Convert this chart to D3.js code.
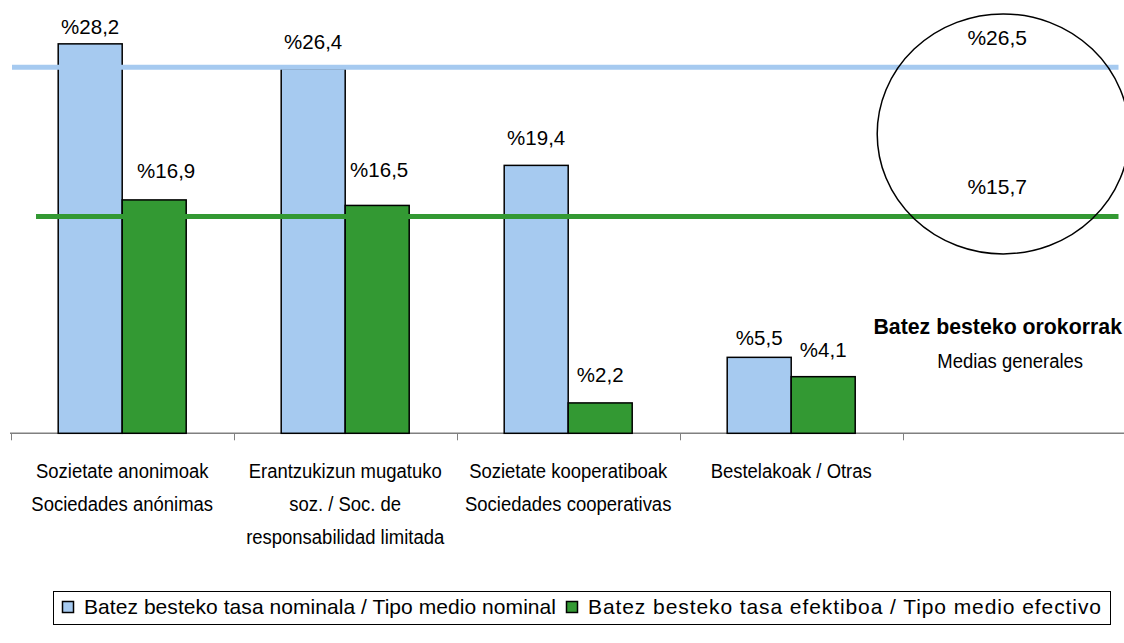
<!DOCTYPE html>
<html><head><meta charset="utf-8">
<script src="https://cdn.jsdelivr.net/npm/d3@7"></script>
<style>
html,body{margin:0;padding:0;background:#fff;}
svg{display:block;}
.narrow{font-family:"Liberation Sans Narrow","Arial Narrow","Liberation Sans",Arial,sans-serif;}
.reg{font-family:"Liberation Sans",Arial,sans-serif;}
</style></head>
<body>
<svg id="chart" width="1124" height="643"></svg>
<script>
// ---- data ----
const categories = ["Sozietate anonimoak", "Erantzukizun mugatuko", "Sozietate kooperatiboak", "Bestelakoak"];
const categoryLines = [
  ["Sozietate anonimoak", "Sociedades anónimas"],
  ["Erantzukizun mugatuko", "soz. / Soc. de", "responsabilidad limitada"],
  ["Sozietate kooperatiboak", "Sociedades cooperativas"],
  ["Bestelakoak / Otras"]
];
const nominal = [28.2, 26.4, 19.4, 5.5];
const efectivo = [16.9, 16.5, 2.2, 4.1];
const averages = [26.5, 15.7];
const seriesNames = ["Batez besteko tasa nominala / Tipo medio nominal", "Batez besteko tasa efektiboa / Tipo medio efectivo"];
const averageTitle = ["Batez besteko orokorrak", "Medias generales"];

// ---- layout / style ----
const W = 1124, H = 643;
const colors = ["#A6CAF0", "#339933"];
const squeeze = 0.88; // horizontal compression to imitate a narrow face
const svg = d3.select("#chart");
const slots = categories.concat(["avg"]);
const x = d3.scaleBand().domain(slots).range([10.7, 1125.7]).padding(0);
const bw = x.bandwidth();
const x1 = d3.scaleBand().domain([0, 1]).range([bw / 2 - 64, bw / 2 + 64]).padding(0);
const y = d3.scaleLinear().domain([0, 30]).range([433.3, 19]);
const locale = d3.formatLocale({decimal: ",", thousands: ".", grouping: [3], currency: ["", "%"]});
const fmt = v => "%" + locale.format(".1f")(v);

// label nudges (dx, dy above bar top)
const labelNudge = [
  [[0, 10], [12, 22]],
  [[0, 20], [2, 28]],
  [[0, 20], [0, 21]],
  [[0, 12], [0, 20]]
];

// axis
const axisG = svg.append("g");
axisG.append("line").attr("x1", 10).attr("x2", W).attr("y1", y(0)).attr("y2", y(0))
  .attr("stroke", "#808080").attr("stroke-width", 1.5);
axisG.selectAll("line.tick").data(slots).join("line").attr("class", "tick")
  .attr("x1", d => Math.round(x(d)) + 0.5).attr("x2", d => Math.round(x(d)) + 0.5)
  .attr("y1", y(0)).attr("y2", y(0) + 7).attr("stroke", "#808080").attr("stroke-width", 1);

// bars
const series = [nominal, efectivo];
const groups = svg.append("g").selectAll("g").data(categories).join("g")
  .attr("transform", d => `translate(${x(d)},0)`);
groups.each(function(c, i) {
  const g = d3.select(this);
  series.forEach((s, k) => {
    g.append("rect")
      .attr("x", x1(k)).attr("width", x1.bandwidth())
      .attr("y", y(s[i])).attr("height", y(0) - y(s[i]))
      .attr("fill", colors[k]).attr("stroke", "#000").attr("stroke-width", 1.5);
  });
});

// average lines
const lineStarts = [12, 36];
averages.forEach((v, k) => {
  svg.append("line").attr("x1", lineStarts[k]).attr("x2", 1118.5)
    .attr("y1", y(v)).attr("y2", y(v))
    .attr("stroke", colors[k]).attr("stroke-width", 5);
});

// value labels
groups.each(function(c, i) {
  const g = d3.select(this);
  series.forEach((s, k) => {
    const n = labelNudge[i][k];
    g.append("text").attr("class", "reg")
      .attr("x", x1(k) + x1.bandwidth() / 2 + n[0])
      .attr("y", y(s[i]) - n[1])
      .attr("text-anchor", "middle").attr("font-size", 20.5).attr("fill", "#000")
      .text(fmt(s[i]));
  });
});

// category labels
svg.append("g").selectAll("text").data(categories).join("text")
  .attr("class", "narrow").attr("font-size", 21).attr("fill", "#000")
  .attr("text-anchor", "middle")
  .attr("transform", d => `translate(${x(d) + bw / 2},0) scale(${squeeze},1)`)
  .each(function(d, i) {
    d3.select(this).selectAll("tspan").data(categoryLines[i]).join("tspan")
      .attr("x", 0).attr("y", (l, j) => 478 + j * 33).text(l => l);
  });

// averages annotation
const cx = x("avg") + bw / 2 - 11;
svg.append("ellipse").attr("cx", cx).attr("cy", (y(averages[0]) + y(averages[1])) / 2 - 8)
  .attr("rx", 126).attr("ry", 120).attr("fill", "none").attr("stroke", "#000").attr("stroke-width", 1.5);
averages.forEach((v, k) => {
  svg.append("text").attr("class", "reg").attr("x", cx - 6).attr("y", y(v) - 22)
    .attr("text-anchor", "middle").attr("font-size", 21).attr("fill", "#000").text(fmt(v));
});
svg.append("text").attr("class", "narrow").attr("x", 1122).attr("y", 334)
  .attr("text-anchor", "end").attr("font-size", 21.3).attr("font-weight", "bold").text(averageTitle[0]);
svg.append("text").attr("class", "narrow")
  .attr("transform", `translate(${x("avg") + bw / 2 - 4},368) scale(${squeeze},1)`)
  .attr("text-anchor", "middle").attr("font-size", 21).text(averageTitle[1]);

// legend
const leg = svg.append("g");
leg.append("rect").attr("x", 53.5).attr("y", 591.5).attr("width", 1057).attr("height", 33)
  .attr("fill", "#fff").attr("stroke", "#000").attr("stroke-width", 1);
const legTextLen = [472, 513];
let legX = 62;
seriesNames.forEach((s, k) => {
  leg.append("rect").attr("x", legX + 0.5).attr("y", 601.5).attr("width", 11).attr("height", 11)
    .attr("fill", colors[k]).attr("stroke", "#000").attr("stroke-width", 1.5);
  leg.append("text").attr("class", "reg").attr("x", legX + 22).attr("y", 614)
    .attr("font-size", 21).attr("fill", "#000")
    .attr("textLength", legTextLen[k]).attr("lengthAdjust", "spacing").text(s);
  legX = legX + 22 + legTextLen[k] + 10;
});
</script>
</body></html>
